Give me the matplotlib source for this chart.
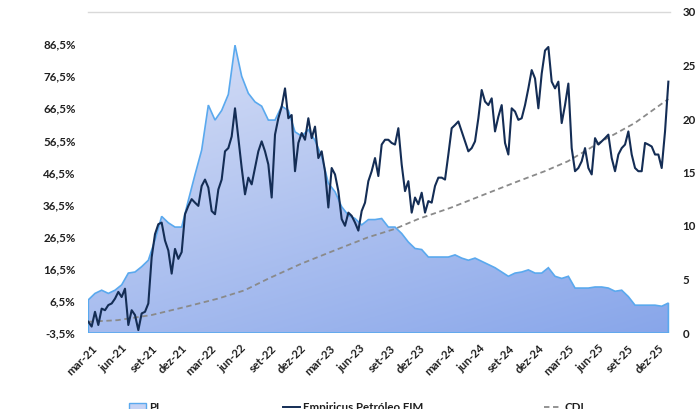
import numpy as np
import pandas as pd
import matplotlib
matplotlib.use('Agg')
import matplotlib.pyplot as plt
import matplotlib.dates as mdates
from matplotlib.patches import Polygon, Patch
from matplotlib.lines import Line2D

plt.rcParams['font.family'] = ['Lato', 'DejaVu Sans']

# Empiricus Petróleo FIM, cumulative return (%), left axis
fund = [0.0, -1.5, 3.1, -1.0, 4.1, 3.6, 5.2, 5.7, 7.2, 9.3, 7.7, 10.3, -1.0, 3.6, 2.1, -2.6,
        2.6, 3.1, 5.7, 20.1, 27.3, 30.4, 30.9, 25.3, 22.2, 15.0, 22.7, 19.6, 21.7, 33.5, 36.1,
        38.2, 37.1, 36.1, 42.3, 44.3, 41.8, 34.5, 33.5, 41.2, 44.3, 53.1, 54.1, 57.7, 66.5, 57.2,
        48.0, 39.7,
        44.9, 42.8, 47.9, 53.1, 56.2, 53.1, 49.0, 38.7, 58.3, 63.4, 67.0, 72.7, 63.4, 64.4, 46.9,
        55.7, 58.8, 56.7, 63.4, 57.2, 60.8, 51.0, 53.1, 46.9, 35.6, 47.9, 45.9, 40.7, 32.0, 29.9,
        34.0, 33.0, 30.9, 28.4, 34.5, 37.1, 43.8, 46.9, 51.0, 45.4, 55.2, 56.7, 56.7, 55.7, 55.2,
        60.3, 49.0, 40.7, 43.8, 34.0, 38.7, 36.6, 40.2, 34.0, 37.6, 37.1, 42.3, 44.9, 44.9, 44.3,
        52.1, 60.3, 61.3, 62.4, 59.3, 56.2, 53.1, 54.1, 56.2, 63.4, 72.2, 68.6, 67.5, 69.6, 59.3,
        63.9, 67.5, 55.7, 52.1, 66.5, 65.5, 62.9, 63.4, 67.5, 72.7, 78.4, 75.8, 66.5, 77.3, 84.5,
        85.6, 74.8, 72.7, 74.8, 61.9, 67.5, 74.2, 54.1, 46.9, 47.9, 50.0, 54.1, 47.9, 45.9, 57.2,
        55.2, 56.2, 57.2, 58.3, 51.0, 46.9, 52.1, 54.1, 55.2, 59.3, 52.1, 47.9, 46.9, 46.9, 55.7,
        55.2, 54.6, 52.1, 52.1, 47.9, 59.3, 74.8]
fund_dates = pd.date_range('2021-02-19', '2026-01-02', periods=len(fund))

# PL (right axis)
pl = [3.1, 3.7, 4.0, 3.7, 4.0, 4.5, 5.6, 5.7, 6.2, 6.8, 8.7, 10.9, 10.3, 9.9, 9.9, 12.4,
      14.8, 17.1, 21.3, 19.9, 20.8, 22.3, 26.9, 24.0,
      22.4, 21.6, 21.2, 19.9, 19.9, 21.2, 20.8, 18.8, 18.4, 19.0, 18.0, 16.5, 14.0, 13.2,
      11.8, 11.0, 10.7, 10.1, 10.6, 10.6, 10.7, 9.9,
      9.9, 9.3, 8.5, 7.9, 7.8, 7.1, 7.1, 7.1, 7.1, 7.3, 7.0, 6.8, 7.0, 6.7, 6.4, 6.1, 5.7,
      5.3, 5.6, 5.7, 5.9, 5.6, 5.6,
      6.1, 5.3, 5.1, 5.3, 4.2, 4.2, 4.2, 4.3, 4.3, 4.2, 3.9, 4.0, 3.4, 2.6, 2.6, 2.6, 2.6,
      2.5, 2.8]
pl_dates = pd.date_range('2021-02-19', '2026-01-02', periods=len(pl))

# CDI cumulative (%), left axis
cdi_dates = pd.to_datetime(['2021-02-19', '2021-05-20', '2021-09-01', '2021-12-12', '2022-03-23',
                            '2022-06-13', '2022-08-24', '2022-12-04', '2023-03-15', '2023-06-26',
                            '2023-09-16', '2023-11-27', '2024-03-08', '2024-06-18', '2024-09-29',
                            '2024-12-19', '2025-02-28', '2025-06-11', '2025-09-21', '2026-01-02'])
cdi = [0.0, 0.5, 2.1, 4.6, 7.2, 9.8, 13.4, 18.1, 22.2, 26.3,
       28.9, 32.0, 35.6, 39.7, 43.8, 46.9, 50.0, 56.2, 61.9, 69.4]

tick_dates = pd.date_range('2021-03-01', '2025-12-01', freq='3MS')
tick_labels = ['mar-21', 'jun-21', 'set-21', 'dez-21', 'mar-22', 'jun-22', 'set-22', 'dez-22',
               'mar-23', 'jun-23', 'set-23', 'dez-23', 'mar-24', 'jun-24', 'set-24', 'dez-24',
               'mar-25', 'jun-25', 'set-25', 'dez-25']

txt = '#1f1f1f'
fs = 8.3

fig = plt.figure(figsize=(7, 4.09), dpi=100)
ax = fig.add_axes([88 / 700, 76 / 409, 582 / 700, 321 / 409])
ax2 = ax.twinx()

# PL area with gradient fill
x_pl = mdates.date2num(pl_dates)
verts = [(x_pl[0], 0)] + list(zip(x_pl, pl)) + [(x_pl[-1], 0)]
poly = Polygon(verts, closed=True, facecolor='none', edgecolor='#5aa9ee', lw=1.2, zorder=3)
ax.add_patch(poly)
top = np.array([222, 228, 247]) / 255
bot = np.array([136, 166, 234]) / 255
vv = np.linspace(0, 1, 200)[:, None]
hh = np.linspace(0, 1, 200)[None, :]
s = 0.65 * vv + 0.35 * hh
img = top * (1 - s)[..., None] + bot * s[..., None]
im = ax.imshow(img, extent=[x_pl[0], x_pl[-1], 0, 30], aspect='auto', origin='upper', zorder=2)
im.set_clip_path(poly)

ax2.plot(mdates.date2num(cdi_dates), cdi, color='#8a8a8a', lw=1.3, dashes=(3, 2), zorder=4)
ax2.plot(mdates.date2num(fund_dates), fund, color='#142d55', lw=1.5, zorder=5)

xmin = mdates.date2num(pd.Timestamp('2021-02-18'))
xmax = mdates.date2num(pd.Timestamp('2026-01-07'))
ax.set_xlim(xmin, xmax)
ax.set_ylim(0, 30)
ax2.set_ylim(-3.5, 96.5)

ax.yaxis.tick_right()
ax2.yaxis.tick_left()
ax.set_yticks(np.arange(0, 31, 5))
ax.set_yticklabels([str(v) for v in range(0, 31, 5)], fontsize=fs, fontweight='bold', color=txt)
lt = np.arange(-3.5, 87, 10)
ax2.set_yticks(lt)
ax2.set_yticklabels([f'{v:.1f}%'.replace('.', ',') for v in lt], fontsize=fs, fontweight='bold', color=txt)

ax.set_xticks(mdates.date2num(tick_dates))
ax.set_xticklabels(tick_labels, rotation=45, ha='right', va='top', rotation_mode='anchor',
                   fontsize=fs, fontweight='bold', color=txt)

ax.tick_params(axis='x', length=0, pad=7)
ax.tick_params(axis='y', length=0, pad=9)
ax2.tick_params(axis='y', length=0, pad=9)

for sp in ax.spines.values():
    sp.set_visible(False)
for sp in ax2.spines.values():
    sp.set_visible(False)
ax.spines['top'].set_visible(True)
ax.spines['top'].set_color('#d9d9d9')
ax.spines['top'].set_linewidth(1)

handles = [Patch(facecolor='#c5d2f4', edgecolor='#5aa9ee', lw=1),
           Line2D([], [], color='#142d55', lw=1.4),
           Line2D([], [], color='#8a8a8a', lw=1.3, dashes=(3, 2))]
fig.legend(handles, ['PL', 'Empiricus Petróleo FIM', 'CDI'], loc='center',
           bbox_to_anchor=(0.509, 0.003), ncol=3, frameon=False, columnspacing=10.5,
           handlelength=1.5, handletextpad=0.25,
           prop=dict(weight='bold', size=fs), labelcolor=txt)

fig.savefig('out.png', dpi=100)
